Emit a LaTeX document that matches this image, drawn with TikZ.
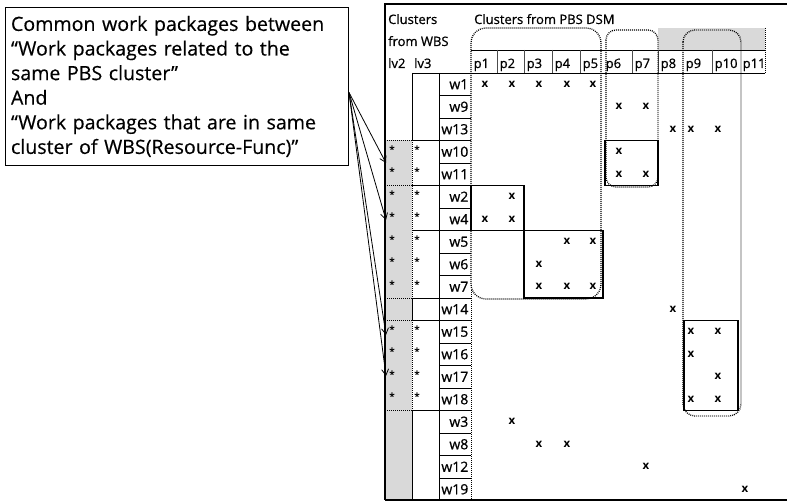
\documentclass[tikz,border=0pt]{standalone}
\usepackage{fontspec}
\setmainfont{Open Sans}
\newfontfamily\tabfont{Open Sans}[FakeBold=0.8]
\newfontfamily\notefont{Open Sans}[FakeBold=0.4]
\usetikzlibrary{arrows.meta}
\begin{document}
\begin{tikzpicture}[x=1pt,y=-1pt,
  frameline/.style={line width=1.1pt},
  gridline/.style={line width=0.7pt},
  thinsep/.style={line width=0.45pt, black!70},
  cluster/.style={line width=1.3pt, dash pattern=on 0.9pt off 1.1pt, rounded corners=#1},
  block/.style={line width=1.3pt},
  grpdots/.style={line width=0.9pt, dash pattern=on 0.9pt off 1.1pt},
  shade/.style={fill=black!15},
  hdr/.style={font=\tabfont\fontsize{13}{13}\selectfont, inner sep=0pt, anchor=base west},
  plabel/.style={font=\tabfont\fontsize{13}{13}\selectfont, inner sep=0pt, anchor=base west},
  wlabel/.style={font=\tabfont\fontsize{14}{14}\selectfont, inner sep=0pt, anchor=base east},
  xmk/.style={font=\bfseries\fontsize{11.5}{12}\selectfont, inner sep=0pt},
  starmk/.style={font=\bfseries\fontsize{10}{10}\selectfont, inner sep=0pt},
  pointer/.style={line width=0.8pt, -{Straight Barb[length=6pt,width=7pt]}},
]
\useasboundingbox (0,0) rectangle (787,502);
\fill[white] (0,0) rectangle (787,502);

% ---------- shaded areas ----------
\fill[shade] (385,140.5) rectangle (412,500);
\fill[shade] (658,28) rectangle (765,50);

% ---------- outer frame ----------
\draw[frameline] (787,4) -- (385,4) -- (385,500);
\draw[line width=1.5pt] (385,500) -- (787,500);

% ---------- header texts ----------
\node[hdr] (hclusters) at (388,24) {Clusters};
\node[hdr] (hfromwbs) at (388,46) {from WBS};
\node[hdr] (hlvtwo) at (388,68) {lv2};
\node[hdr] (hlvthree) at (414,68) {lv3};
\node[hdr] (hpbs) at (474,24) {Clusters from PBS DSM};

% ---------- PBS header row ----------
\draw[gridline] (471,50) -- (765,50);
\draw[gridline] (412,73) -- (765,73);
\foreach \bx in {497,524,552,580,632,658,712}
  \draw[thinsep] (\bx,50) -- (\bx,73);
\foreach \bx/\lab in {471/p1,497/p2,524/p3,552/p4,580/p5,603/p6,632/p7,658/p8,683/p9,712/p10,740/p11}
  \node[plabel] (\lab) at (\bx+2.5,68) {\lab};

% ---------- WBS columns ----------
% row lines of the work package column
\foreach \i in {1,...,18}
  \draw[gridline] (439,{73+22.5*\i}) -- (471,{73+22.5*\i});
% group lines across lv3 and the work package column
\foreach \yy in {140.5,185.5,230.5,298,320.5,410.5}
  \draw[gridline] (412,\yy) -- (471,\yy);
\draw[gridline] (439,73) -- (439,500);
% lv3 left edge: solid outside the starred groups, dotted inside
\draw[gridline] (412,73) -- (412,140.5);
\draw[gridline] (412,298) -- (412,320.5);
\draw[gridline] (412,410.5) -- (412,500);
\draw[grpdots] (412,140.5) -- (412,298);
\draw[grpdots] (412,320.5) -- (412,410.5);
% lv2 group separators
\foreach \yy in {140.5,185.5,298,320.5,410.5}
  \draw[grpdots] (385,\yy) -- (412,\yy);
% dotted right edge of the work package column
\draw[grpdots] (471,290) -- (471,500);

% work package labels
\foreach \lab [count=\i from 0] in {w1,w9,w13,w10,w11,w2,w4,w5,w6,w7,w14,w15,w16,w17,w18,w3,w8,w12,w19}
  \node[wlabel] (\lab) at (468.5,{84.25+22.5*\i+5}) {\lab};

% stars in lv2 and lv3
\foreach \i in {3,4,5,6,7,8,9,11,12,13,14} {
  \node[starmk] (sa\i) at (392,{82+22.5*\i}) {*};
  \node[starmk] (sb\i) at (417,{82+22.5*\i}) {*};
}

% ---------- PBS clusters (dotted) ----------
\draw[cluster=15pt] (471,28) rectangle (601,299);
\draw[cluster=10pt] (606,30) rectangle (658,187);
\draw[cluster=12pt] (683,30) rectangle (741,416);
\draw[grpdots] (765,28) -- (765,73);

% ---------- common blocks (solid) ----------
\draw[block] (605,140.5) rectangle (658,185.5);
\draw[block] (471,185.5) rectangle (524,230.5);
\draw[block] (524,230.5) rectangle (603,298);
\draw[block] (684,320.5) rectangle (738,410.5);

% ---------- dependency marks ----------
\foreach \r/\c [count=\k] in {
  0/485,0/512,0/539,0/567,0/593,
  1/619,1/646,
  2/673,2/691,2/718,
  3/619,
  4/619,4/646,
  5/512,
  6/485,6/512,
  7/567,7/593,
  8/539,
  9/539,9/567,9/593,
  10/673,
  11/691,11/718,
  12/691,
  13/718,
  14/691,14/718,
  15/512,
  16/539,16/567,
  17/646,
  18/745}
  \node[xmk] (xm\k) at (\c,{84.25+22.5*\r}) {x};

% ---------- call-out ----------
\node[draw, line width=1pt, anchor=north west, minimum width=343pt,
      minimum height=158pt, text width=332pt, inner xsep=5pt, align=left,
      font=\notefont\fontsize{19.6}{24.6}\selectfont] (callout) at (5,7)
  {Common work packages between\\
   “Work packages related to the\\
   same PBS cluster”\\
   And\\
   “Work packages that are in same\\
   cluster of WBS(Resource-Func)”};

\coordinate (src) at ([yshift=-6pt]callout.east);
\coordinate (ta) at (386,163);
\coordinate (tb) at (386,220);
\coordinate (tc) at (386,335);
\coordinate (td) at (386,376);
\foreach \t in {ta,tb,tc,td}
  \draw[pointer] (src) -- (\t);
\end{tikzpicture}
\end{document}
